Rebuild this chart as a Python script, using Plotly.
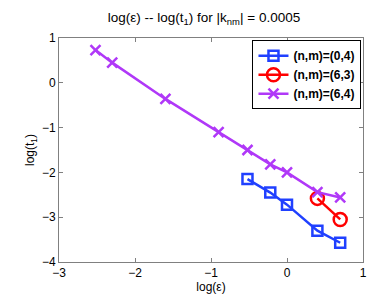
import plotly.graph_objects as go

x_blue = [-0.52, -0.22, 0.0, 0.4, 0.7]
y_blue = [-2.15, -2.45, -2.72, -3.3, -3.57]
x_red = [0.4, 0.7]
y_red = [-2.58, -3.05]
x_purple = [-2.52, -2.3, -1.6, -0.9, -0.52, -0.22, 0.0, 0.4, 0.7]
y_purple = [0.73, 0.45, -0.36, -1.1, -1.5, -1.82, -2.0, -2.44, -2.56]

labels = ["(n,m)=(0,4)", "(n,m)=(6,3)", "(n,m)=(6,4)"]
colors = ["#2040ff", "#ff0000", "#b038f8"]

fig = go.Figure()
fig.add_trace(go.Scatter(x=x_blue, y=y_blue, mode="lines+markers", name=labels[0],
                         line=dict(color=colors[0], width=2.5),
                         marker=dict(symbol="square-open", size=10, line=dict(width=2.5, color=colors[0]))))
fig.add_trace(go.Scatter(x=x_red, y=y_red, mode="lines+markers", name=labels[1],
                         line=dict(color=colors[1], width=2.5),
                         marker=dict(symbol="circle-open", size=13, line=dict(width=2.5, color=colors[1]))))
fig.add_trace(go.Scatter(x=x_purple, y=y_purple, mode="lines+markers", name=labels[2],
                         line=dict(color=colors[2], width=2.5),
                         marker=dict(symbol="x-thin-open", size=10, line=dict(width=2.5, color=colors[2]))))

axis_common = dict(showgrid=False, zeroline=False, showline=True, linecolor="#808080", linewidth=1,
                   mirror="ticks", ticks="inside", ticklen=4, tickcolor="#808080",
                   tickfont=dict(size=12, color="black"), dtick=1)
fig.update_xaxes(range=[-3, 1], title=dict(text="log(ε)", font=dict(size=12), standoff=2), **axis_common)
fig.update_yaxes(range=[-4, 1], title=dict(text="log(t<sub>1</sub>)", font=dict(size=12), standoff=4), **axis_common)

fig.update_layout(
    width=392, height=295,
    margin=dict(l=51, r=37, t=30, b=38),
    paper_bgcolor="white", plot_bgcolor="white",
    font=dict(family="Liberation Sans, Arial, sans-serif", size=12, color="black"),
    title=dict(text="log(ε) -- log(t<sub>1</sub>) for |k<sub>nm</sub>| = 0.0005",
               x=0.5, xanchor="center", y=0.985, yanchor="top", font=dict(size=13.5)),
    showlegend=True,
    legend=dict(x=0.995, y=0.99, xanchor="right", yanchor="top", bgcolor="white",
                bordercolor="black", borderwidth=1,
                font=dict(size=12, family="Liberation Sans, Arial, sans-serif", weight="bold"),
                itemwidth=30, tracegroupgap=0),
)
fig.write_html("out.html")
